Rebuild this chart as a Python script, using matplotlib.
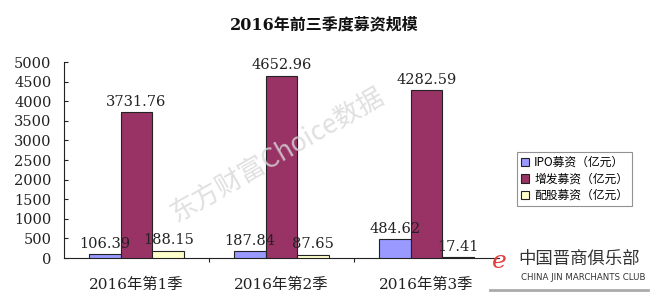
import matplotlib
matplotlib.use("Agg")
import matplotlib.pyplot as plt
import numpy as np

categories = ["2016年第1季", "2016年第2季", "2016年第3季"]
series_names = ["IPO募资（亿元）", "增发募资（亿元）", "配股募资（亿元）"]
ipo = [106.39, 187.84, 484.62]
zengfa = [3731.76, 4652.96, 4282.59]
peigu = [188.15, 87.65, 17.41]
yticks = [0, 500, 1000, 1500, 2000, 2500, 3000, 3500, 4000, 4500, 5000]
colors = ["#9999FF", "#993366", "#FFFFCC"]

FAM = ["DejaVu Serif", "Noto Sans CJK SC"]
plt.rcParams["font.family"] = FAM

W, H = 656, 299
fig = plt.figure(figsize=(W / 100, H / 100), dpi=100)
ax = fig.add_axes([64 / W, (H - 258) / H, 435 / W, 196 / H])

x = np.arange(len(categories))
bw = 0.22
for i, (vals, c, name) in enumerate(zip([ipo, zengfa, peigu], colors, series_names)):
    pos = x + (i - 1) * bw
    ax.bar(pos, vals, bw, color=c, edgecolor="#222222", linewidth=0.8, label=name, zorder=3)
    for p, v in zip(pos, vals):
        ax.text(p, v + 80, f"{v:.2f}", ha="center", va="bottom", fontsize=10.5,
                color="#222222", zorder=4)

ax.set_xlim(-0.5, 2.5)
ax.set_ylim(0, 5000)
ax.set_yticks(yticks)
ax.set_yticklabels([str(t) for t in yticks], fontsize=10.5)
ax.tick_params(axis="y", direction="in", length=3, pad=9, colors="#222222")
ax.set_xticks([0.5, 1.5])
ax.set_xticklabels([])
ax.tick_params(axis="x", direction="out", length=3, color="#222222")
for i, c in enumerate(categories):
    ax.text(i, -0.1, c, transform=ax.get_xaxis_transform(), ha="center", va="top",
            fontsize=11, color="#222222")
for s in ["top", "right"]:
    ax.spines[s].set_visible(False)
ax.spines["left"].set_color("#222222")
ax.spines["bottom"].set_color("#222222")

fig.text(324 / W, 1 - 25 / H, "2016年前三季度募资规模", ha="center", va="center",
         fontsize=11.5, fontweight="bold", color="#111111")

leg = fig.legend(loc="upper left", bbox_to_anchor=(511 / W, 1 - 146 / H), fontsize=8.5,
                 frameon=True, fancybox=False, edgecolor="#777777", handlelength=0.7,
                 handleheight=0.7, borderpad=0.35, labelspacing=0.3, handletextpad=0.4,
                 prop={"family": ["Noto Sans CJK SC"], "size": 8.5})
leg.get_frame().set_linewidth(0.8)

# watermark
fig.text(277 / W, 1 - 155 / H, "东方财富Choice数据", rotation=30, ha="center", va="center",
         fontsize=19, color="#d8d8d8", alpha=0.8, family=["Noto Sans CJK SC"], zorder=0)

# logo
fig.text(499 / W, 1 - 262 / H, "e", ha="center", va="center", fontsize=18, color="#e04040",
         style="italic", family=["DejaVu Serif"])
fig.text(518 / W, 1 - 259 / H, "中国晋商俱乐部", ha="left", va="center", fontsize=12.5,
         color="#333333", family=["Noto Sans CJK SC"])
fig.text(521 / W, 1 - 277 / H, "CHINA JIN MARCHANTS CLUB", ha="left", va="center",
         fontsize=6.2, color="#333333", family=["DejaVu Sans"])
fig.add_artist(plt.Line2D([490 / W, 648 / W], [1 - 290 / H, 1 - 290 / H], color="#aaaaaa",
                          linewidth=2, transform=fig.transFigure))

fig.savefig("out.png", dpi=100)
